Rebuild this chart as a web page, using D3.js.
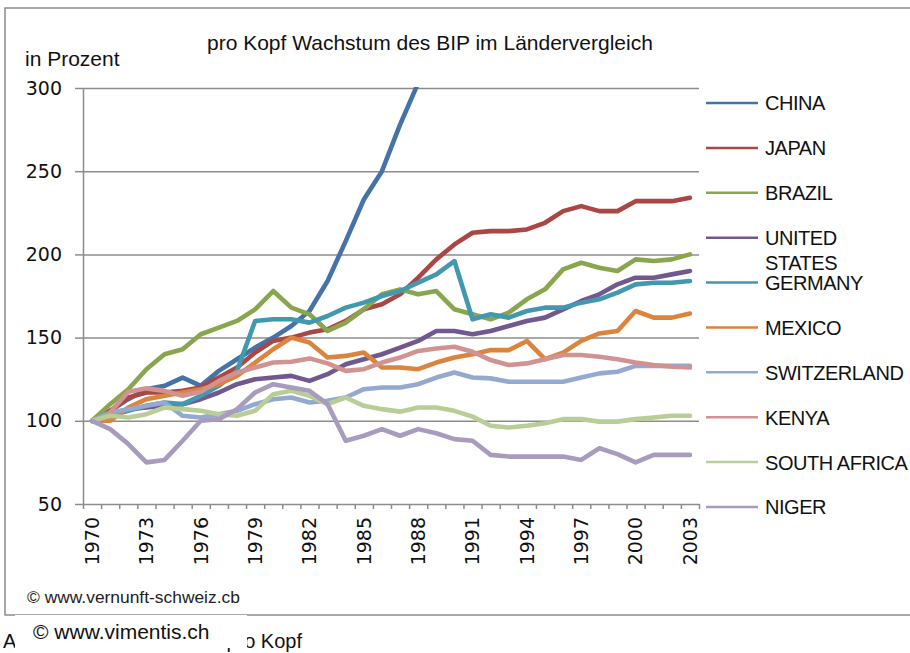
<!DOCTYPE html>
<html>
<head>
<meta charset="utf-8">
<script src="https://cdn.jsdelivr.net/npm/d3@7"></script>
<style>
  body { margin: 0; background: #fff; }
  text { font-family: "Liberation Sans", Arial, sans-serif; fill: #111; }
  .num { font-family: "DejaVu Sans", sans-serif; }
</style>
</head>
<body>
<svg></svg>
<script>
var years = d3.range(1970, 2004)
var yTicks = [50, 100, 150, 200, 250, 300]
var labelYears = d3.range(1970, 2004, 3)

var names = ['CHINA', 'JAPAN', 'BRAZIL', 'UNITED STATES', 'GERMANY', 'MEXICO', 'SWITZERLAND', 'KENYA', 'SOUTH AFRICA', 'NIGER']
var colors = ['#4572A7', '#AA4643', '#89A54E', '#71588F', '#4198AF', '#DB843D', '#93A9CF', '#D19392', '#B9CD96', '#A99BBD']

var china = [100, 106, 113, 119, 121, 126, 121, 130, 137, 144, 150, 157, 166, 184, 208, 233, 250, 278, 303,
  null, null, null, null, null, null, null, null, null, null, null, null, null, null, null]
var japan = [100, 106, 114, 117, 117, 118, 120, 126, 132, 141, 148, 150, 153, 155, 160, 167, 170, 176, 186, 197,
  206, 213, 214, 214, 215, 219, 226, 229, 226, 226, 232, 232, 232, 234]
var brazil = [100, 110, 119, 131, 140, 143, 152, 156, 160, 167, 178, 168, 164, 154, 159, 167, 176, 179, 176, 178,
  167, 164, 161, 165, 173, 179, 191, 195, 192, 190, 197, 196, 197, 200]
var usa = [100, 104, 107, 108, 109, 110, 113, 117, 122, 125, 126, 127, 124, 128, 134, 137, 140, 144, 148, 154,
  154, 152, 154, 157, 160, 162, 167, 172, 176, 182, 186, 186, 188, 190]
var germany = [100, 103, 106, 109, 111, 110, 115, 121, 130, 160, 161, 161, 159, 163, 168, 171, 175, 178, 183, 188,
  196, 161, 164, 162, 166, 168, 168, 171, 173, 177, 182, 183, 183, 184]
var mexico = [100, 100, 108, 113, 115, 117, 119, 122, 127, 135, 143, 150, 147, 138, 139, 141, 132, 132, 131, 135,
  138, 140, 142.5, 142.5, 148, 137, 141, 148, 152.5, 154, 166, 162, 162, 164.5]
var switzerland = [100, 105, 107, 109, 111, 103, 102, 104, 106, 110, 113, 114, 111, 112, 114, 119, 120, 120, 122, 126,
  129, 126, 125.5, 123.5, 123.5, 123.5, 123.5, 126, 128.5, 129.5, 133, 133, 133, 133]
var kenya = [null, 105, 117.5, 119.5, 118, 115, 117.5, 124, 129, 132, 135, 135.5, 137.5, 134.5, 130, 131, 135, 138, 142, 143.5,
  144.5, 141.5, 136.5, 133.5, 134.5, 137, 139.5, 139.5, 138.5, 137, 135, 133.5, 132.5, 132]
var southAfrica = [100, 103, 102, 104, 108, 107, 106, 104, 103, 106, 116, 118, 115, 110, 114, 109, 107, 105.5, 108, 108,
  106, 102.5, 97, 96, 97, 98.5, 101, 101, 99.5, 99.5, 101, 102, 103, 103]
var niger = [100, 95, 86, 75, 76.5, 88, 100, 101, 107, 117, 122, 120, 118, 110, 88, 91, 95, 91, 95, 92.5,
  89, 88, 79.5, 78.5, 78.5, 78.5, 78.5, 76.5, 83.5, 80, 75, 79.5, 79.5, 79.5]

var series = [china, japan, brazil, usa, germany, mexico, switzerland, kenya, southAfrica, niger]

var width = 910
var height = 653
var plotLeft = 83
var plotRight = 699
var plotTop = 88
var plotBottom = 504

var svg = d3.select('svg').attr('width', width).attr('height', height)

// chart frame
svg.append('rect')
  .attr('x', 5).attr('y', 8)
  .attr('width', width).attr('height', 607)
  .attr('fill', 'none')
  .attr('stroke', '#8c8c8c')
  .attr('stroke-width', 1.5)

var x = d3.scaleBand().domain(years).range([plotLeft, plotRight]).padding(0)
var y = d3.scaleLinear().domain([50, 300]).range([plotBottom, plotTop])
var xEdge = d3.scaleLinear().domain([0, years.length]).range([plotLeft, plotRight])

// grid lines
svg.append('g')
  .attr('transform', 'translate(' + plotLeft + ',0)')
  .call(d3.axisLeft(y).tickValues(yTicks.slice(1)).tickSize(-(plotRight - plotLeft)).tickFormat(''))
  .call(g => g.select('.domain').remove())
  .selectAll('line')
  .attr('stroke', '#8c8c8c')
  .attr('stroke-width', 1.5)

// y axis
var yAxis = svg.append('g')
  .attr('transform', 'translate(' + plotLeft + ',0)')
  .call(d3.axisLeft(y).tickValues(yTicks).tickSize(8).tickPadding(13).tickSizeOuter(0))
yAxis.select('.domain').attr('stroke', '#8c8c8c').attr('stroke-width', 1.5)
yAxis.selectAll('line').attr('stroke', '#8c8c8c').attr('stroke-width', 1.5)
yAxis.selectAll('text')
  .attr('class', 'num')
  .style('font-size', '19px')
  .attr('fill', '#111')

// x axis, ticks between categories
var xAxis = svg.append('g')
  .attr('transform', 'translate(0,' + plotBottom + ')')
  .call(d3.axisBottom(xEdge).tickValues(d3.range(years.length + 1)).tickSize(5).tickFormat('').tickSizeOuter(0))
xAxis.select('.domain').attr('stroke', '#8c8c8c').attr('stroke-width', 1.5)
xAxis.selectAll('line').attr('stroke', '#8c8c8c').attr('stroke-width', 1.5)

var xLabels = svg.append('g')
  .attr('transform', 'translate(0,' + plotBottom + ')')
  .call(d3.axisBottom(x).tickValues(labelYears).tickSize(0).tickPadding(0))
xLabels.select('.domain').remove()
xLabels.selectAll('text')
  .attr('class', 'num')
  .style('font-size', '19px')
  .attr('fill', '#111')
  .attr('text-anchor', 'end')
  .attr('transform', 'rotate(-90)')
  .attr('x', -13)
  .attr('y', 0)
  .attr('dy', '0.36em')

// lines
svg.append('clipPath').attr('id', 'plot')
  .append('rect')
  .attr('x', plotLeft).attr('y', plotTop - 1)
  .attr('width', plotRight - plotLeft).attr('height', plotBottom - plotTop + 1)

var line = d3.line()
  .defined(d => d != null)
  .x((d, i) => x(years[i]) + x.bandwidth() / 2)
  .y(d => y(d))

svg.append('g')
  .attr('clip-path', 'url(#plot)')
  .selectAll('path')
  .data(series)
  .enter()
  .append('path')
  .attr('d', line)
  .attr('fill', 'none')
  .attr('stroke', (d, i) => colors[i])
  .attr('stroke-width', 4.6)
  .attr('stroke-linejoin', 'round')
  .attr('stroke-linecap', 'round')

// legend
var ly = d3.scalePoint().domain(names).range([103, 507])
var legend = svg.append('g')
  .selectAll('g')
  .data(names)
  .enter()
  .append('g')
  .attr('transform', d => 'translate(706,' + ly(d) + ')')

legend.append('line')
  .attr('x1', 0).attr('x2', 52)
  .attr('stroke', (d, i) => colors[i])
  .attr('stroke-width', 2.5)

legend.append('text')
  .style('font-size', '20px')
  .style('letter-spacing', '-0.45px')
  .each(function (d) {
    var parts = d === 'UNITED STATES' ? ['UNITED', 'STATES'] : [d]
    d3.select(this).selectAll('tspan')
      .data(parts)
      .enter()
      .append('tspan')
      .attr('x', 59)
      .attr('dy', (p, i) => i === 0 ? '0.37em' : '1.25em')
      .text(p => p)
  })

// titles
svg.append('text')
  .attr('x', 207).attr('y', 50)
  .style('font-size', '21px')
  .text('pro Kopf Wachstum des BIP im Ländervergleich')

svg.append('text')
  .attr('x', 25).attr('y', 66)
  .style('font-size', '21px')
  .text('in Prozent')

svg.append('text')
  .attr('x', 27).attr('y', 603)
  .style('font-size', '17.4px')
  .style('fill', '#222')
  .text('© www.vernunft-schweiz.cb')

// caption below, mostly covered by the white box
svg.append('text')
  .attr('x', 3).attr('y', 648)
  .style('font-size', '20px')
  .text('A')

svg.append('text')
  .attr('x', 302).attr('y', 648)
  .attr('text-anchor', 'end')
  .style('font-size', '20px')
  .text('pro Kopf')

svg.append('rect')
  .attr('x', 15).attr('y', 615)
  .attr('width', 232).attr('height', 33)
  .attr('fill', '#fff')

svg.append('text')
  .attr('x', 33).attr('y', 639)
  .style('font-size', '21px')
  .text('© www.vimentis.ch')
</script>
</body>
</html>
